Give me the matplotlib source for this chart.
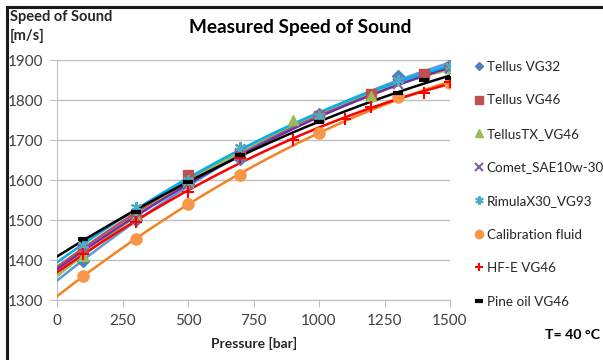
import numpy as np
import matplotlib
matplotlib.use("Agg")
import matplotlib.pyplot as plt
from matplotlib.lines import Line2D

plt.rcParams['font.family'] = ['Lato', 'DejaVu Sans']

# data (pressure in bar, speed in m/s)
names = ["Tellus VG32", "Tellus VG46", "TellusTX_VG46", "Comet_SAE10w-30",
         "RimulaX30_VG93", "Calibration fluid", "HF-E VG46", "Pine oil VG46"]
pressures = [
    [100, 300, 500, 700, 1000, 1300, 1500],
    [100, 300, 500, 700, 1000, 1200, 1400, 1500],
    [100, 300, 500, 700, 900, 1000, 1200, 1500],
    [100, 300, 500, 700, 1000, 1300, 1500],
    [100, 300, 500, 700, 1000, 1300, 1500],
    [100, 300, 500, 700, 1000, 1300, 1500],
    [100, 300, 500, 700, 900, 1100, 1200, 1400, 1500],
    [100, 300, 500, 700, 1000, 1300, 1400, 1500],
]
speeds = [
    [1398, 1500, 1590, 1652, 1765, 1860, 1887],
    [1430, 1510, 1612, 1667, 1760, 1815, 1865, 1880],
    [1410, 1510, 1595, 1670, 1750, 1760, 1810, 1880],
    [1425, 1505, 1590, 1665, 1755, 1840, 1880],
    [1437, 1532, 1600, 1683, 1760, 1850, 1885],
    [1360, 1453, 1540, 1612, 1718, 1807, 1842],
    [1415, 1495, 1570, 1655, 1700, 1752, 1783, 1817, 1845],
    [1452, 1520, 1595, 1662, 1745, 1817, 1850, 1855],
]
colors = ["#4F81BD", "#C0504D", "#9BBB59", "#8064A2", "#4BACC6", "#F79646", "#FF0000", "#000000"]
line_colors = ["#5B9BD5", "#C0504D", "#9BBB59", "#7030A0", "#00B0F0", "#F58220", "#FF0000", "#000000"]
markers = ["D", "s", "^", "x", (6, 2, 0), "o", "+", "_"]
msizes = [6, 7, 7, 7, 8, 8, 8, 7]

fig = plt.figure(figsize=(6.03, 3.6), dpi=100)
ax = fig.add_axes([57 / 603, 1 - 300 / 360, 393 / 603, 240 / 360])

xs = np.linspace(0, 1500, 200)
handles = []
for i in range(len(names)):
    p = np.array(pressures[i])
    v = np.array(speeds[i])
    coef = np.polyfit(p, v, 2)
    ax.plot(xs, np.polyval(coef, xs), color=line_colors[i], lw=1.8, zorder=3)
    thin = markers[i] in ["x", "+", "_", (6, 2, 0)]
    h, = ax.plot(p, v, ls="none", marker=markers[i], color=colors[i], ms=msizes[i],
                 mew=1.5 if thin else 1, mec=colors[i], zorder=4, label=names[i])
    if markers[i] == "_":
        h.set_markeredgewidth(3)
    handles.append(h)

ax.set_xlim(0, 1500)
ax.set_ylim(1300, 1900)
ax.set_xticks(range(0, 1501, 250))
ax.set_yticks(range(1300, 1901, 100))
ax.yaxis.grid(True, color="#BFBFBF", lw=1)
ax.set_axisbelow(True)
for s in ["top", "right"]:
    ax.spines[s].set_visible(False)
ax.spines["left"].set_color("#BFBFBF")
ax.spines["bottom"].set_color("#BFBFBF")
ax.tick_params(axis="both", colors="#BFBFBF", labelcolor="#404040", labelsize=11,
               length=5, direction="out", pad=5)

fig.text(254 / 603, 1 - 343 / 360, "Pressure [bar]", ha="center", va="center",
         fontsize=10, fontweight="bold", color="#262626")
fig.text(10 / 603, 1 - 10 / 360, "Speed of Sound\n[m/s]", ha="left", va="top",
         fontsize=10.5, fontweight="bold", color="#262626", linespacing=1.4)
fig.text(300 / 603, 1 - 28 / 360, "Measured Speed of Sound", ha="center", va="center",
         fontsize=13.7, fontweight="bold", color="#000000")
fig.text(600 / 603, 1 - 335 / 360, "T= 40 °C", ha="right", va="center",
         fontsize=10.2, fontweight="bold", color="#000000")

leg = fig.legend(handles=handles, loc="upper left", bbox_to_anchor=(468 / 603, 1 - 54 / 360),
                 frameon=False, fontsize=9.7, handlelength=0.6, handletextpad=0.3,
                 labelspacing=1.6, borderpad=0, markerscale=0.75)
for t in leg.get_texts():
    t.set_color("#262626")

# frame lines on left and top
fig.add_artist(Line2D([7 / 603, 7 / 603], [0, 1 - 7 / 360], color="#1A1A1A", lw=2.2,
                      transform=fig.transFigure))
fig.add_artist(Line2D([7 / 603, 1], [1 - 7 / 360, 1 - 7 / 360], color="#1A1A1A", lw=2.2,
                      transform=fig.transFigure))

fig.savefig("out.png", dpi=100)
